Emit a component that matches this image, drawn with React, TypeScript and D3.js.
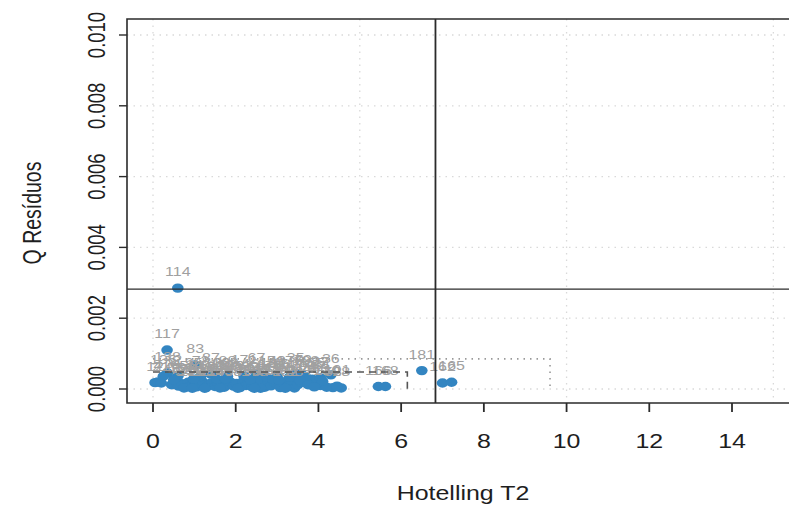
import React from "react";
import * as d3 from "d3";

// Hotelling T2 vs Q residuals per sample
const sampleIds = [
  114, 117, 138, 83, 87, 67, 35, 36, 181, 162, 165, 166, 168, 58, 28,
  12, 4, 21, 45, 9, 77, 102, 33, 56, 71, 14, 90, 123, 6, 48,
  97, 150, 19, 63, 110, 25, 81, 133, 40, 158, 7, 52, 99, 144, 30,
  68, 119, 3, 86, 141, 22, 75, 127, 60, 11, 93, 147, 38, 104, 17,
  79, 155, 42, 65, 130, 2, 88, 171, 49, 108, 27, 136, 73, 15, 176,
  31, 54, 95, 112, 139, 160, 8, 46, 84, 121, 152, 170, 24, 61, 101,
  129, 143, 178, 37, 70,
];
const t2Values = [
  0.6, 0.34, 0.35, 1.02, 1.4, 2.5, 3.45, 4.3, 6.5, 7.0, 7.22, 5.45, 5.62, 4.35, 4.55,
  0.05, 0.12, 0.2, 0.45, 0.55, 0.62, 0.7, 0.78, 0.85, 0.92, 1.0, 1.05, 1.12, 1.2, 1.28,
  1.35, 1.42, 1.5, 1.58, 1.65, 1.72, 1.8, 1.88, 1.95, 2.02, 2.1, 2.18, 2.25, 2.32, 2.4,
  2.48, 2.55, 2.62, 2.7, 2.78, 2.85, 2.92, 3.0, 3.08, 3.15, 3.25, 3.35, 3.42, 3.5, 3.58,
  3.63, 3.85, 3.95, 4.05, 4.2, 0.6, 1.8, 2.2, 3.0, 3.7, 4.05, 0.25, 1.15, 2.75, 3.3,
  0.5, 0.75, 0.98, 1.25, 1.55, 1.75, 2.05, 2.35, 2.6, 2.9, 3.2, 3.55, 3.75, 4.1, 4.45,
  0.95, 1.62, 2.45, 3.05, 3.9,
];
const qValues = [
  0.00285, 0.0011, 0.00045, 0.00068, 0.00042, 0.00042, 0.00043, 0.0004, 0.00052, 0.00017, 0.00019, 0.00007, 0.00007, 0.00004, 0.00003,
  0.00018, 0.0002, 0.00017, 0.00012, 0.00022, 0.00008, 0.00015, 0.00005, 0.00019, 0.0001, 0.00024, 0.00006, 0.00014, 0.0002, 0.00004,
  0.00011, 0.00018, 0.00007, 0.00015, 0.00022, 0.00005, 0.00012, 0.00019, 0.00008, 0.00016, 0.00004, 0.00021, 0.0001, 0.00014, 0.00006,
  0.00018, 0.00011, 0.00024, 0.00005, 0.00015, 0.00009, 0.0002, 0.00013, 0.00004, 0.00017, 0.00008, 0.00022, 0.00003, 0.00012, 0.00019,
  0.00038, 0.00028, 0.00016, 0.0001, 0.00005, 0.00036, 0.00035, 0.00037, 0.00034, 0.00033, 0.00031, 0.00036, 0.00035, 0.00034, 0.00033,
  0.00026, 0.00003, 0.00028, 0.00002, 0.00027, 0.00029, 0.00002, 0.00026, 0.00002, 0.00027, 0.00002, 0.00025, 0.00012, 0.00022, 0.00008,
  0.00002, 0.00003, 0.00002, 0.00025, 0.00006,
];

const xTicks = [0, 2, 4, 6, 8, 10, 12, 14];
const yTicks = [0, 0.002, 0.004, 0.006, 0.008, 0.01];
const xGrid = [0, 5, 10, 15];
const yGrid = [0, 0.002, 0.004, 0.006, 0.008, 0.01];

// control limits
const t2Limit = 6.83;
const qLimit = 0.00282;
const innerBox = { t2: 6.15, q: 0.00048 };
const outerBox = { t2: 9.6, q: 0.00085 };

const W = 789;
const H = 507;
const frame = { left: 127, top: 19, bottom: 403, right: 830 };
const SX = 1.28; // horizontal stretch of glyphs and markers

const x = d3.scaleLinear().domain([0, 14]).range([153, 732]);
const y = d3.scaleLinear().domain([0, 0.01]).range([389, 35]);

const font = "'Liberation Sans', Arial, Helvetica, sans-serif";

export default function App() {
  const pts = sampleIds.map((id, i) => ({ id, t2: t2Values[i], q: qValues[i] }));
  const ink = "#2b2b2b";
  return (
    <svg width={W} height={H} style={{ position: "absolute", left: 0, top: 0, background: "#fff" }} fontFamily={font}>
      {/* grid */}
      {xGrid.map((g) => (
        <line key={"gx" + g} x1={x(g)} x2={x(g)} y1={frame.top} y2={frame.bottom} stroke="#d9d9d9" strokeDasharray="1.5,5" strokeWidth={1.3} />
      ))}
      {yGrid.map((g) => (
        <line key={"gy" + g} x1={frame.left} x2={frame.right} y1={y(g)} y2={y(g)} stroke="#d9d9d9" strokeDasharray="1.5,5" strokeWidth={1.3} />
      ))}

      {/* points */}
      {pts.map((p) => (
        <ellipse key={"p" + p.id} cx={x(p.t2)} cy={y(p.q)} rx={5.8} ry={4.7} fill="#3385c1" />
      ))}

      {/* sample labels */}
      {pts.map((p) => (
        <text
          key={"l" + p.id}
          transform={`translate(${x(p.t2)},${y(p.q) - 12}) scale(${SX},1)`}
          textAnchor="middle"
          fontSize={12.5}
          fill="#a0a0a0"
        >
          {p.id}
        </text>
      ))}

      {/* limit boxes */}
      <path
        d={`M${x(0)},${y(innerBox.q)}H${x(innerBox.t2)}V${y(0)}`}
        fill="none"
        stroke="#555"
        strokeWidth={1.6}
        strokeDasharray="7,5"
      />
      <path
        d={`M${x(0)},${y(outerBox.q)}H${x(outerBox.t2)}V${y(0)}`}
        fill="none"
        stroke="#999"
        strokeWidth={1.6}
        strokeDasharray="1.5,5"
      />

      {/* T2 and Q limits */}
      <line x1={x(t2Limit)} x2={x(t2Limit)} y1={frame.top} y2={frame.bottom} stroke={ink} strokeWidth={1.8} />
      <line x1={frame.left} x2={frame.right} y1={y(qLimit)} y2={y(qLimit)} stroke={ink} strokeWidth={1.4} />

      {/* frame */}
      <path
        d={`M${frame.right},${frame.top}H${frame.left}V${frame.bottom}H${frame.right}`}
        fill="none"
        stroke={ink}
        strokeWidth={1.6}
      />

      {/* x axis */}
      {xTicks.map((t) => (
        <g key={"xt" + t}>
          <line x1={x(t)} x2={x(t)} y1={frame.bottom} y2={frame.bottom + 9} stroke={ink} strokeWidth={1.8} />
          <text transform={`translate(${x(t)},447.5) scale(${SX},1)`} textAnchor="middle" fontSize={19.5} fill="#1e1e1e">
            {t}
          </text>
        </g>
      ))}
      <text transform={`translate(463,500) scale(${SX},1)`} textAnchor="middle" fontSize={19.5} fill="#1e1e1e">
        Hotelling T2
      </text>

      {/* y axis */}
      {yTicks.map((t) => (
        <g key={"yt" + t}>
          <line x1={frame.left - 8} x2={frame.left} y1={y(t)} y2={y(t)} stroke={ink} strokeWidth={1.4} />
          <text transform={`translate(104.5,${y(t)}) scale(${SX},1) rotate(-90)`} textAnchor="middle" fontSize={18.5} fill="#1e1e1e">
            {d3.format(".3f")(t)}
          </text>
        </g>
      ))}
      <text transform={`translate(41,213) scale(${SX},1) rotate(-90)`} textAnchor="middle" fontSize={19.5} fill="#1e1e1e">
        Q Resíduos
      </text>
    </svg>
  );
}
